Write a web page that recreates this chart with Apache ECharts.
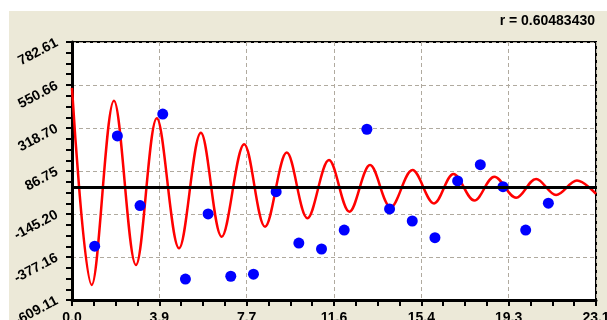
<!DOCTYPE html>
<html><head><meta charset="utf-8">
<script src="https://cdn.jsdelivr.net/npm/echarts@6/dist/echarts.min.js"></script>
<style>
html,body{margin:0;padding:0;background:#fff;}
#bg{position:absolute;left:9px;top:11px;width:598px;height:309px;background:#ECE9D8;}
#chart{position:absolute;left:0;top:0;width:607px;height:320px;}
</style>
</head><body><div id="bg"></div><div id="chart"></div>
<script>
const titleText = 'r = 0.60483430';
const xTickLabels = ['0.0','3.9','7.7','11.6','15.4','19.3','23.1'];
const yTickLabels = ['-609.11','-377.16','-145.20','86.75','318.70','550.66','782.61'];
const xMin = 0, xMax = 23.1, xStep = 3.85;
const yMin = -609.11, yMax = 782.61;
const refLineValue = 0;

const pointX = [1,2,3,4,5,6,7,8,9,10,11,12,13,14,15,16,17,18,19,20,21];
const pointY = [-319,276,-100,394,-496,-145,-481,-470,-25,-302,-334,-232,312,-118,-183,-273,33,121,2,-232,-87];

const curveX = [0,0.87,1.85,2.82,3.74,4.72,5.68,6.60,7.59,8.51,9.47,10.38,11.33,12.23,13.14,14.05,15.01,15.96,16.82,17.74,18.62,19.58,20.46,21.34,22.26,23.1];
const curveY = [535,-528,466,-420,371,-330,293,-268,231,-214,186,-168,146,-133,119,-109,92,-88,71,-73,56,-57,44,-43,35,-37];

// y axis is drawn in offset units (value - yMin) so that ticks start at the axis minimum
const yRange = yMax - yMin;
const yStep = yRange / 6;
const shift = v => v - yMin;

const font = 'Liberation Sans';
const chart = echarts.init(document.getElementById('chart'), null, {renderer: 'canvas'});
chart.setOption({
  backgroundColor: 'transparent',
  animation: false,
  title: {
    text: titleText, right: 12, top: 14, padding: 0,
    textStyle: {fontFamily: font, fontSize: 14, fontWeight: 'bold', color: '#000'}
  },
  grid: {left: 72, top: 42, right: 11, bottom: 20, outerBoundsMode: 'none', containLabel: false,
    show: true, backgroundColor: '#fff', borderColor: '#000', borderWidth: 2},
  xAxis: {
    type: 'value', min: xMin, max: xMax, interval: xStep,
    axisLine: {show: true, onZero: false, lineStyle: {color: '#000', width: 3}},
    axisTick: {show: true, length: 6, lineStyle: {color: '#000', width: 2}},
    minorTick: {show: true, splitNumber: 4, length: 6, lineStyle: {color: '#000', width: 2}},
    splitLine: {show: true, lineStyle: {color: '#b0aa9f', width: 1, type: [4, 3]}},
    axisLabel: {margin: 11, fontFamily: font, fontSize: 14, fontWeight: 'bold', color: '#000',
      formatter: (v, i) => xTickLabels[i] !== undefined ? xTickLabels[i] : v.toFixed(1)}
  },
  yAxis: {
    type: 'value', min: 0, max: yRange, interval: yStep,
    axisLine: {show: true, onZero: false, lineStyle: {color: '#000', width: 3}},
    axisTick: {show: true, length: 6, lineStyle: {color: '#000', width: 2}},
    minorTick: {show: true, splitNumber: 4, length: 6, lineStyle: {color: '#000', width: 2}},
    splitLine: {show: true, lineStyle: {color: '#b0aa9f', width: 1, type: [4, 3]}},
    axisLabel: {margin: 15, rotate: 28, padding: [12, 0, 0, 0], fontFamily: font, fontSize: 14, fontWeight: 'bold', color: '#000',
      formatter: (v, i) => yTickLabels[i] !== undefined ? yTickLabels[i] : (v + yMin).toFixed(2)}
  },
  series: [
    {
      type: 'line', z: 1, data: [], silent: true,
      markLine: {symbol: 'none', silent: true, label: {show: false},
        lineStyle: {color: '#000', width: 3, type: 'solid'},
        data: [{yAxis: shift(refLineValue)}]}
    },
    {
      type: 'line', z: 2, smooth: 0.35, showSymbol: false, silent: true,
      lineStyle: {color: '#ff0000', width: 2.5},
      data: curveX.map((x, i) => [x, shift(curveY[i])])
    },
    {
      type: 'scatter', z: 3, symbolSize: 11, silent: true,
      itemStyle: {color: '#0000ff', opacity: 1},
      data: pointX.map((x, i) => [x, shift(pointY[i])])
    }
  ]
});
</script>
</body></html>
